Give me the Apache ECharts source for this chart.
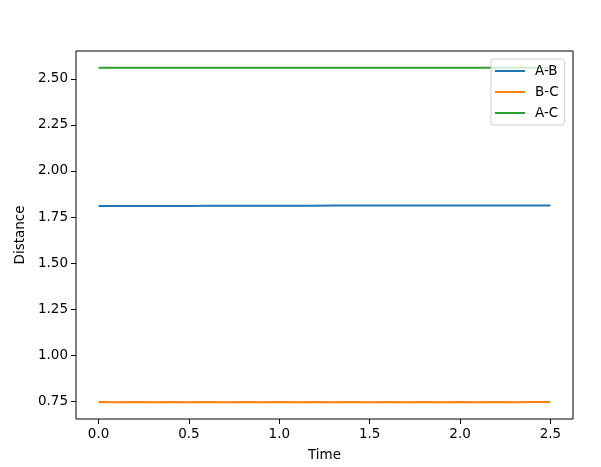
<!DOCTYPE html>
<html>
<head>
<meta charset="utf-8">
<script src="https://cdn.jsdelivr.net/npm/echarts@6/dist/echarts.min.js"></script>
<style>
html,body{margin:0;padding:0;background:#fff;}
#c{width:601px;height:467px;}
</style>
</head>
<body>
<div id="c"></div>
<script>
const time = [0.0,0.1,0.2,0.3,0.4,0.5,0.6,0.7,0.8,0.9,1.0,1.1,1.2,1.3,1.4,1.5,1.6,1.7,1.8,1.9,2.0,2.1,2.2,2.3,2.4,2.5];
const abDist = [1.810,1.810,1.810,1.810,1.810,1.810,1.811,1.811,1.811,1.811,1.811,1.811,1.811,1.812,1.812,1.812,1.812,1.812,1.812,1.812,1.813,1.813,1.813,1.813,1.813,1.813];
const bcDist = [0.746,0.745,0.746,0.745,0.746,0.745,0.746,0.745,0.746,0.745,0.746,0.745,0.746,0.745,0.746,0.745,0.746,0.745,0.746,0.745,0.746,0.745,0.746,0.745,0.746,0.746];
const acDist = [2.560,2.560,2.560,2.560,2.560,2.560,2.560,2.560,2.560,2.560,2.560,2.560,2.560,2.560,2.560,2.560,2.560,2.560,2.560,2.560,2.560,2.560,2.560,2.560,2.560,2.560];
const seriesNames = ['A-B','B-C','A-C'];
const xTicks = [0.0,0.5,1.0,1.5,2.0,2.5];
const yTicks = [0.75,1.00,1.25,1.50,1.75,2.00,2.25,2.50];

const font = 'DejaVu Sans';
const colors = ['#1f77b4','#ff7f0e','#2ca02c'];
const pairs = a => time.map((t,i)=>[t,a[i]]);
const chart = echarts.init(document.getElementById('c'), null, {renderer:'canvas'});
chart.setOption({
  animation:false,
  backgroundColor:'#fff',
  textStyle:{fontFamily:font},
  grid:{left:76,top:51,width:497,height:368,show:true,borderColor:'#000',borderWidth:1,backgroundColor:'transparent'},
  xAxis:{
    type:'value', min:-0.125, max:2.625,
    name:'Time', nameLocation:'middle', nameGap:29,
    nameTextStyle:{fontFamily:font,fontSize:13.5,color:'#000'},
    axisLine:{show:false,onZero:false},
    splitLine:{show:false},
    axisTick:{show:true,length:5,inside:false,lineStyle:{color:'#000',width:1},customValues:xTicks},
    axisLabel:{show:true,margin:8,fontFamily:font,fontSize:13.5,color:'#000',customValues:xTicks,formatter:v=>v.toFixed(1)}
  },
  yAxis:{
    type:'value', min:0.654, max:2.651,
    name:'Distance', nameLocation:'middle', nameGap:45, nameRotate:90,
    nameTextStyle:{fontFamily:font,fontSize:13.5,color:'#000'},
    axisLine:{show:false,onZero:false},
    splitLine:{show:false},
    axisTick:{show:true,length:5,inside:false,lineStyle:{color:'#000',width:1},customValues:yTicks},
    axisLabel:{show:true,margin:8,fontFamily:font,fontSize:13.5,color:'#000',customValues:yTicks,formatter:v=>v.toFixed(2)}
  },
  legend:{
    orient:'vertical', left:491, top:59,
    padding:[4,6,4,4], itemGap:5, itemWidth:30, itemHeight:2,
    backgroundColor:'rgba(255,255,255,0.8)', borderColor:'#d0d0d0', borderWidth:1, borderRadius:3,
    textStyle:{fontFamily:font,fontSize:13.5,color:'#000',lineHeight:16,padding:[0,0,0,5]},
    data:seriesNames.map(n=>({name:n,icon:'rect'}))
  },
  series:[abDist,bcDist,acDist].map((d,i)=>({
    name:seriesNames[i], type:'line', data:pairs(d), showSymbol:false, symbol:'none',
    lineStyle:{color:colors[i],width:2}, itemStyle:{color:colors[i]}
  }))
});
</script>
</body>
</html>
